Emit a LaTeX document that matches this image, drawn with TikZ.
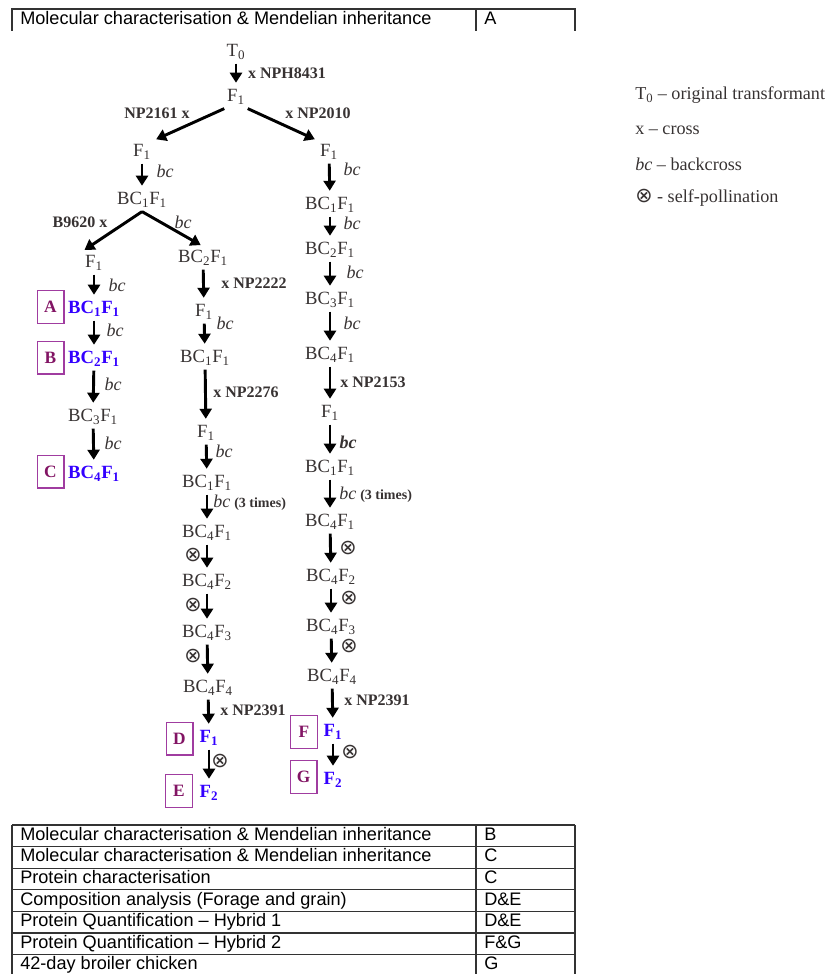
\documentclass[tikz,border=0pt]{standalone}
\usepackage{fontspec}
\setmainfont{Liberation Serif}
\newfontfamily\tablefont{Liberation Sans}
\newfontfamily\symfont{DejaVu Sans}
\usetikzlibrary{arrows.meta}

\definecolor{gentext}{RGB}{55,50,50}
\definecolor{genblue}{RGB}{51,0,255}
\definecolor{boxline}{RGB}{160,60,160}
\definecolor{boxtext}{RGB}{130,20,100}

% generation names
\newcommand{\fg}[1]{F\textsubscript{#1}}
\newcommand{\bcf}[2]{BC\textsubscript{#1}F\textsubscript{#2}}
\newcommand{\selfed}{{\symfont\fontsize{15.5}{16}\selectfont ⊗}}

\begin{document}
\begin{tikzpicture}[x=0.75pt,y=-0.75pt]
          \tikzstyle{gen}=[text=gentext,font=\fontsize{14}{16}\selectfont,text height=10pt,text depth=3pt,inner sep=2pt];
          \tikzstyle{hit}=[gen,text=genblue,font=\fontsize{14}{16}\selectfont\bfseries];
          \tikzstyle{lab}=[text=gentext,font=\fontsize{12}{14}\selectfont\bfseries,inner sep=0pt];
          \tikzstyle{bclab}=[text=gentext,font=\fontsize{13.5}{15}\selectfont\itshape,inner sep=0pt];
          \tikzstyle{selfing}=[text=gentext,inner sep=0pt];
          \tikzstyle{tag}=[draw=boxline,line width=1pt,text=boxtext,font=\fontsize{13}{15}\selectfont\bfseries,minimum width=20pt,minimum height=24.5pt,inner sep=0pt];
          \tikzstyle{arr}=[-{Triangle[width=9pt,length=7.5pt]},line width=2.2pt,black,shorten >=2pt];
          \tikzstyle{rule}=[line width=0.8pt,black!80];
          \tikzstyle{cell}=[font=\tablefont\fontsize{13.6}{15}\selectfont,text height=9pt,text depth=2.5pt,inner sep=0pt,anchor=west];
          \tikzstyle{key}=[text=gentext,font=\fontsize{13.6}{15}\selectfont,inner sep=0pt,anchor=west];
          \useasboundingbox (0,0) rectangle (825,974);

          %top table
          \draw[rule] (12,31) -- (12,9) -- (575,9) -- (575,31);
          \draw[rule] (476,9) -- (476,31);
          \node[cell] (taskA) at (20,20) {Molecular characterisation \& Mendelian inheritance};
          \node[cell] (stageA) at (484,20) {A};

          %start of the tree
          \node[gen] (t0) at (236,52) {T\textsubscript{0}};
          \node[gen] (f1) at (236,97) {\fg{1}};
          \node[lab] (xnph) at (287,73) {x NPH8431};
          \draw[arr] (t0) -- (f1);
          \node[gen] (fa) at (142,152) {\fg{1}};
          \node[gen] (fc) at (329,152) {\fg{1}};
          \node[lab] (xnp2161) at (157,113) {NP2161 x};
          \node[lab] (xnp2010) at (318,113) {x NP2010};
          \draw[arr] (f1.south west) -- (fa.north east);
          \draw[arr] (f1.south east) -- (fc.north west);

          %left branch
          \node[gen] (bc1L) at (142,200) {\bcf{1}{1}};
          \node[bclab] (bcL) at (165,171) {bc};
          \draw[arr] (fa) -- (bc1L);
          \node[gen] (fA1) at (94,263) {\fg{1}};
          \node[gen] (bc2B) at (203,258) {\bcf{2}{1}};
          \node[lab] (xb9620) at (80,222) {B9620 x};
          \node[bclab] (bcLB) at (183,222) {bc};
          \draw[arr] (bc1L.south) -- (fA1.north west);
          \draw[arr] (bc1L.south) -- (bc2B.north);

          %column A, B, C
          \node[hit] (bc1A) at (94,309) {\bcf{1}{1}};
          \node[hit] (bc2A) at (94,359) {\bcf{2}{1}};
          \node[gen] (bc3A) at (93,417) {\bcf{3}{1}};
          \node[hit] (bc4A) at (94,474) {\bcf{4}{1}};
          \node[tag] (boxA) at (50.5,307) {A};
          \node[tag] (boxB) at (50.5,357.5) {B};
          \node[tag] (boxC) at (50.5,471.5) {C};
          \node[bclab] (bcA1) at (117,285) {bc};
          \node[bclab] (bcA2) at (115,330) {bc};
          \node[bclab] (bcA3) at (113,384) {bc};
          \node[bclab] (bcA4) at (113,443) {bc};
          \draw[arr] (fA1) -- (bc1A);
          \draw[arr] (bc1A) -- (bc2A);
          \draw[arr] (bc2A) -- (bc3A);
          \draw[arr] (bc3A) -- (bc4A);

          %column D, E
          \node[gen] (fB) at (204,312) {\fg{1}};
          \node[gen] (bc1B) at (205,358) {\bcf{1}{1}};
          \node[gen] (fB2) at (206,433) {\fg{1}};
          \node[gen] (bc1B2) at (207,483) {\bcf{1}{1}};
          \node[gen] (bc4f1B) at (207,533) {\bcf{4}{1}};
          \node[gen] (bc4f2B) at (207,582) {\bcf{4}{2}};
          \node[gen] (bc4f3B) at (207,633) {\bcf{4}{3}};
          \node[gen] (bc4f4B) at (208,688) {\bcf{4}{4}};
          \node[hit] (f1D) at (209,738) {\fg{1}};
          \node[hit] (f2E) at (209,793) {\fg{2}};
          \node[tag] (boxD) at (179.5,738.5) {D};
          \node[tag] (boxE) at (179,791) {E};
          \node[lab] (xnp2222) at (254,283) {x NP2222};
          \node[bclab] (bcB1) at (225,323) {bc};
          \node[lab] (xnp2276) at (246,392) {x NP2276};
          \node[bclab] (bcB2) at (224,451) {bc};
          \node[lab,anchor=west] (threeB) at (213,503) {\textit{\fontsize{13.5}{15}\selectfont\mdseries bc} {\fontsize{10.5}{12}\selectfont (3 times)}};
          \node[selfing] (sB1) at (193,555) {\selfed};
          \node[selfing] (sB2) at (193,605) {\selfed};
          \node[selfing] (sB3) at (193,656) {\selfed};
          \node[lab,anchor=west] (xnp2391B) at (220,710) {x NP2391};
          \node[selfing] (sB4) at (220,761) {\selfed};
          \draw[arr] (bc2B) -- (fB);
          \draw[arr] (fB) -- (bc1B);
          \draw[arr] (bc1B) -- (fB2);
          \draw[arr] (fB2) -- (bc1B2);
          \draw[arr] (bc1B2) -- (bc4f1B);
          \draw[arr] (bc4f1B) -- (bc4f2B);
          \draw[arr] (bc4f2B) -- (bc4f3B);
          \draw[arr] (bc4f3B) -- (bc4f4B);
          \draw[arr] (bc4f4B) -- (f1D);
          \draw[arr] (f1D) -- (f2E);

          %right branch, column F, G
          \node[gen] (bc1C) at (330,205) {\bcf{1}{1}};
          \node[gen] (bc2C) at (330,250) {\bcf{2}{1}};
          \node[gen] (bc3C) at (330,300) {\bcf{3}{1}};
          \node[gen] (bc4C) at (330,355) {\bcf{4}{1}};
          \node[gen] (fC2) at (330,413) {\fg{1}};
          \node[gen] (bc1C2) at (330,468) {\bcf{1}{1}};
          \node[gen] (bc4f1C) at (330,522) {\bcf{4}{1}};
          \node[gen] (bc4f2C) at (331,577) {\bcf{4}{2}};
          \node[gen] (bc4f3C) at (331,627) {\bcf{4}{3}};
          \node[gen] (bc4f4C) at (332,677) {\bcf{4}{4}};
          \node[hit] (f1F) at (333,732) {\fg{1}};
          \node[hit] (f2G) at (333,780) {\fg{2}};
          \node[tag] (boxF) at (304,732) {F};
          \node[tag] (boxG) at (303.5,777) {G};
          \node[bclab] (bcC1) at (352,169) {bc};
          \node[bclab] (bcC2) at (352,223) {bc};
          \node[bclab] (bcC3) at (355,272) {bc};
          \node[bclab] (bcC4) at (352,323) {bc};
          \node[lab,anchor=west] (xnp2153) at (340,382) {x NP2153};
          \node[bclab,font=\fontsize{13.5}{15}\selectfont\bfseries\itshape] (bcC5) at (348,442) {bc};
          \node[lab,anchor=west] (threeC) at (339,495) {\textit{\fontsize{13.5}{15}\selectfont\mdseries bc} {\fontsize{10.5}{12}\selectfont (3 times)}};
          \node[selfing] (sC1) at (348,548) {\selfed};
          \node[selfing] (sC2) at (349,598) {\selfed};
          \node[selfing] (sC3) at (349,646) {\selfed};
          \node[lab,anchor=west] (xnp2391C) at (344,700) {x NP2391};
          \node[selfing] (sC4) at (350,752) {\selfed};
          \draw[arr] (fc) -- (bc1C);
          \draw[arr] (bc1C) -- (bc2C);
          \draw[arr] (bc2C) -- (bc3C);
          \draw[arr] (bc3C) -- (bc4C);
          \draw[arr] (bc4C) -- (fC2);
          \draw[arr] (fC2) -- (bc1C2);
          \draw[arr] (bc1C2) -- (bc4f1C);
          \draw[arr] (bc4f1C) -- (bc4f2C);
          \draw[arr] (bc4f2C) -- (bc4f3C);
          \draw[arr] (bc4f3C) -- (bc4f4C);
          \draw[arr] (bc4f4C) -- (f1F);
          \draw[arr] (f1F) -- (f2G);

          %key
          \node[key] (keyT) at (635,95) {T\textsubscript{0} – original transformant};
          \node[key] (keyX) at (635,130) {x – cross};
          \node[key] (keyBC) at (635,164) {\textit{bc} – backcross};
          \node[key] (keyS) at (635,198) {\selfed{} - self-pollination};

          %bottom table
          \foreach \i in {0,...,6}
            \draw[rule] (12,825+21.6*\i) -- (575,825+21.6*\i);
          \draw[rule] (12,825) -- (12,976);
          \draw[rule] (476,825) -- (476,976);
          \draw[rule] (575,825) -- (575,976);
          \foreach \task/\stage [count=\i from 0] in {Molecular characterisation \& Mendelian inheritance/B,
              Molecular characterisation \& Mendelian inheritance/C,
              Protein characterisation/C,
              Composition analysis (Forage and grain)/D\&E,
              Protein Quantification – Hybrid 1/D\&E,
              Protein Quantification – Hybrid 2/F\&G,
              42-day broiler chicken/G}
          {
            \node[cell] (task\i) at (20,836+21.6*\i) {\task};
            \node[cell] (stage\i) at (484,836+21.6*\i) {\stage};
          }
      \end{tikzpicture}
\end{document}
